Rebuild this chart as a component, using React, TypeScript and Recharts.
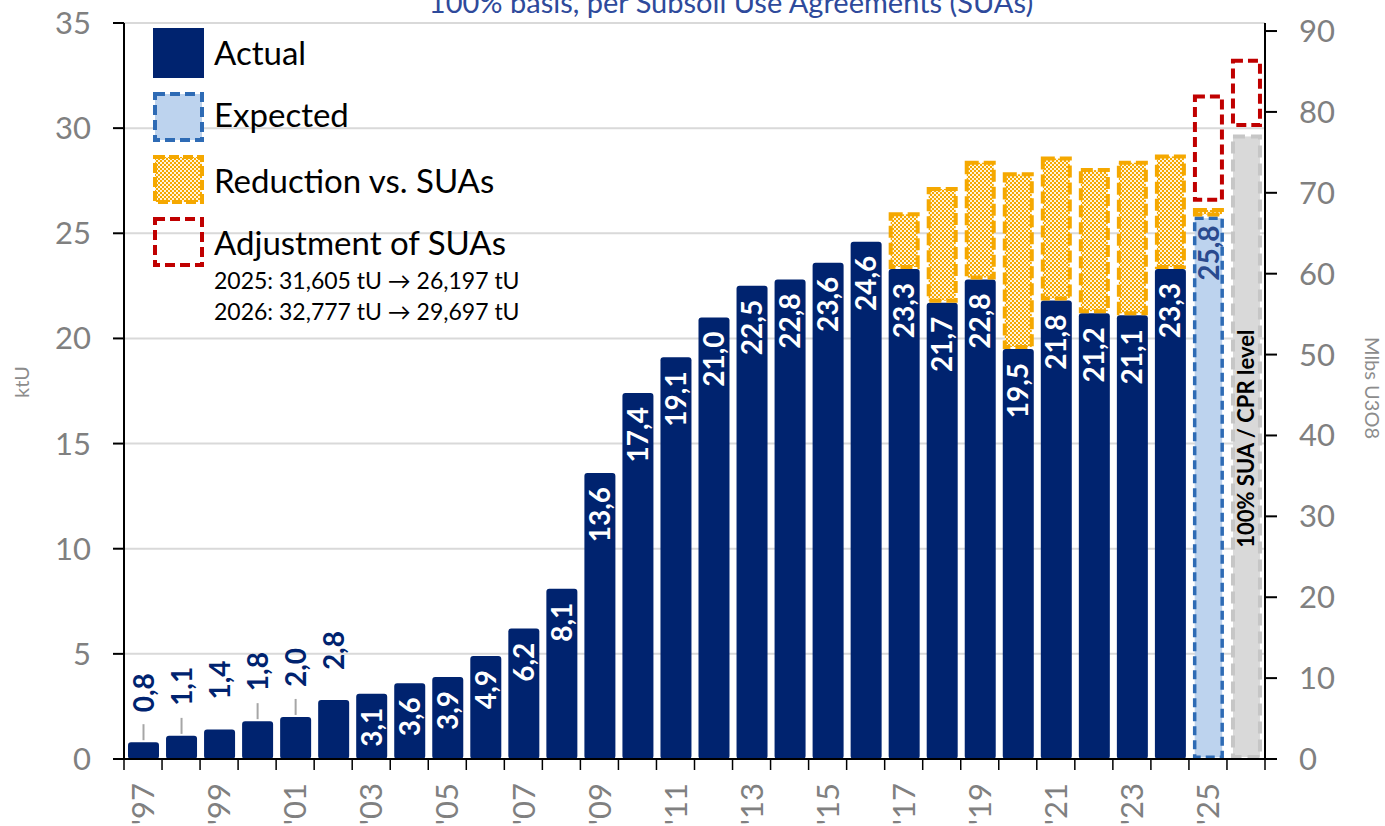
import { ComposedChart, Bar, XAxis, YAxis, CartesianGrid, Line, LabelList } from 'recharts';

const years = [
  '1997', '1998', '1999', '2000', '2001', '2002', '2003', '2004', '2005', '2006',
  '2007', '2008', '2009', '2010', '2011', '2012', '2013', '2014', '2015', '2016',
  '2017', '2018', '2019', '2020', '2021', '2022', '2023', '2024', '2025', '2026',
];

// ktU, 1997-2024
const actualKt = [
  0.8, 1.1, 1.4, 1.8, 2.0, 2.8, 3.1, 3.6, 3.9, 4.9,
  6.2, 8.1, 13.6, 17.4, 19.1, 21.0, 22.5, 22.8, 23.6, 24.6,
  23.3, 21.7, 22.8, 19.5, 21.8, 21.2, 21.1, 23.3,
];

const reductionYears = ['2017', '2018', '2019', '2020', '2021', '2022', '2023', '2024', '2025'];
const reductionKt = [2.7, 5.5, 5.65, 8.4, 6.85, 6.9, 7.35, 5.45, 0.4];

const expectedYears = ['2025'];
const expectedKt = [25.8];

const cprYears = ['2026'];
const cprKt = [29.7];

const adjustmentYears = ['2025', '2026'];
const spacerKt = [0.3, 0.35];
const adjustmentKt = [5.1, 3.25];

const leaderYears = ['1997', '1998', '2000', '2001'];

const leftTicks = [0, 5, 10, 15, 20, 25, 30, 35];
const rightTicks = [0, 10, 20, 30, 40, 50, 60, 70, 80, 90];
// 1 ktU = 2.5998 Mlbs U3O8
const LBS_PER_KTU = 2.5998;

const NAVY = '#00236F';
const GREY_TXT = '#808080';
const ORANGE = '#F5A800';
const RED = '#C00000';
const FONT = 'Lato, "Open Sans", sans-serif';

const pick = (ys: string[], vs: number[], y: string) => {
  const i = ys.indexOf(y);
  return i >= 0 ? vs[i] : null;
};

const data = years.map((year, i) => ({
  year,
  actual: i < actualKt.length ? actualKt[i] : null,
  expected: pick(expectedYears, expectedKt, year),
  cpr: pick(cprYears, cprKt, year),
  reduction: pick(reductionYears, reductionKt, year),
  spacer: pick(adjustmentYears, spacerKt, year),
  adjustment: pick(adjustmentYears, adjustmentKt, year),
  base: 0,
}));

const fmt = (v: number) => v.toFixed(1).replace('.', ',');
const HALF_BAND = (1265 - 124) / years.length / 2;

const dashed = (fill: string, stroke: string, sw: number, dash: string) => (props: any) => {
  const { x, y, width, height } = props;
  if (!height || height <= 0) return <g />;
  return (
    <rect
      x={x + sw / 2}
      y={y + sw / 2}
      width={width - sw}
      height={Math.max(0, height - sw)}
      fill={fill}
      stroke={stroke}
      strokeWidth={sw}
      strokeDasharray={dash}
    />
  );
};

const box = (props: any) => {
  const vb = props.viewBox ?? props;
  const top = Math.min(vb.y, vb.y + vb.height);
  return { cx: vb.x + vb.width / 2, top, h: Math.abs(vb.height) };
};

const actualLabel = (props: any) => {
  const { value, index } = props;
  if (value == null) return null;
  const { cx, top } = box(props);
  if (value < 3) {
    const lead = leaderYears.includes(years[index]);
    return (
      <g>
        {lead && <line x1={cx} x2={cx} y1={top - 2} y2={top - 18} stroke="#A6A6A6" strokeWidth={2} />}
        <text
          transform={`translate(${cx},${top - 30}) rotate(-90)`}
          textAnchor="start"
          dy="0.36em"
          fill={NAVY}
          fontSize={28}
          fontWeight={700}
          fontFamily={FONT}
        >
          {fmt(value)}
        </text>
      </g>
    );
  }
  return (
    <text
      transform={`translate(${cx},${top + 14}) rotate(-90)`}
      textAnchor="end"
      dy="0.36em"
      fill="#fff"
      fontSize={28}
      fontWeight={700}
      fontFamily={FONT}
    >
      {fmt(value)}
    </text>
  );
};

const expectedLabel = (props: any) => {
  const { value } = props;
  if (value == null) return null;
  const { cx, top } = box(props);
  return (
    <text
      transform={`translate(${cx},${top + 9}) rotate(-90)`}
      textAnchor="end"
      dy="0.36em"
      fill="#2A4A8E"
      fontSize={28}
      fontWeight={700}
      fontFamily={FONT}
    >
      {fmt(value)}
    </text>
  );
};

const cprLabel = (props: any) => {
  const { value } = props;
  if (value == null) return null;
  const { cx, top, h } = box(props);
  return (
    <text
      transform={`translate(${cx},${top + h / 2 - 8}) rotate(-90)`}
      textAnchor="middle"
      dy="0.36em"
      fill="#000"
      fontSize={22}
      fontWeight={700}
      fontFamily={FONT}
    >
      100% SUA / CPR level
    </text>
  );
};

const XTick = (props: any) => {
  const { x, y, index } = props;
  const label = "'" + years[index].slice(2);
  return (
    <g>
      <line x1={x - HALF_BAND} x2={x - HALF_BAND} y1={y} y2={y + 11} stroke="#000" strokeWidth={1.5} />
      {index === years.length - 1 && (
        <line x1={x + HALF_BAND} x2={x + HALF_BAND} y1={y} y2={y + 11} stroke="#000" strokeWidth={1.5} />
      )}
      {index % 2 === 0 && (
        <text
          transform={`translate(${x},${y + 24}) rotate(-90)`}
          textAnchor="end"
          dy="0.36em"
          fill={GREY_TXT}
          fontSize={31}
          fontFamily={FONT}
        >
          {label}
        </text>
      )}
    </g>
  );
};

function Overlay() {
  const legend = [
    { name: 'Actual', y: 65 },
    { name: 'Expected', y: 127 },
    { name: 'Reduction vs. SUAs', y: 193 },
    { name: 'Adjustment of SUAs', y: 255 },
  ];
  return (
    <svg
      width={1385}
      height={826}
      style={{ position: 'absolute', left: 0, top: 0, pointerEvents: 'none' }}
      fontFamily={FONT}
    >
      <defs>
        <pattern id="hatch" width="4" height="4" patternUnits="userSpaceOnUse">
          <rect width="4" height="4" fill="#FFF4DC" />
          <rect width="2" height="2" fill={ORANGE} />
          <rect x="2" y="2" width="2" height="2" fill={ORANGE} />
        </pattern>
      </defs>
      <text x={731} y={13} textAnchor="middle" fontSize={29} fill="#2E4A9B">
        100% basis, per Subsoil Use Agreements (SUAs)
      </text>
      <text transform="translate(22,382) rotate(-90)" textAnchor="middle" dy="0.36em" fontSize={20} fill="#8C8C8C">
        ktU
      </text>
      <text transform="translate(1372,388) rotate(90)" textAnchor="middle" dy="0.36em" fontSize={20} fill="#8C8C8C">
        Mlbs U3O8
      </text>

      <rect x={153} y={28} width={51} height={50} fill={NAVY} />
      <rect x={155} y={94} width={47} height={46} fill="#BDD3EE" stroke="#2E6BB5" strokeWidth={4} strokeDasharray="10 5" />
      <rect x={155} y={157} width={47} height={45} fill="url(#hatch)" stroke={ORANGE} strokeWidth={4} strokeDasharray="10 4" />
      <rect x={155} y={219} width={47} height={46} fill="none" stroke={RED} strokeWidth={4} strokeDasharray="10 5" />
      {legend.map((l) => (
        <text key={l.name} x={214} y={l.y} fontSize={33} fill="#000">
          {l.name}
        </text>
      ))}
      <text x={214} y={289} fontSize={23} fill="#000">2025: 31,605 tU → 26,197 tU</text>
      <text x={214} y={320} fontSize={23} fill="#000">2026: 32,777 tU → 29,697 tU</text>
    </svg>
  );
}

export default function App() {
  return (
    <div style={{ position: 'absolute', left: 0, top: 0, width: 1385, height: 826, background: '#fff', fontFamily: FONT }}>
      <ComposedChart
        width={1385}
        height={826}
        data={data}
        margin={{ top: 23, right: 0, bottom: 0, left: 0 }}
        barSize={31}
      >
        <CartesianGrid vertical={false} stroke="#D9D9D9" strokeWidth={2} yAxisId="l" />
        <XAxis
          dataKey="year"
          height={67}
          interval={0}
          tickLine={false}
          tickSize={0}
          tickMargin={0}
          axisLine={{ stroke: '#000', strokeWidth: 2 }}
          tick={<XTick />}
        />
        <YAxis
          yAxisId="l"
          width={124}
          domain={[0, 35]}
          ticks={leftTicks}
          interval={0}
          tickSize={11}
          tickMargin={22}
          axisLine={{ stroke: '#000', strokeWidth: 2 }}
          tickLine={{ stroke: '#000', strokeWidth: 2 }}
          tick={{ fill: GREY_TXT, fontSize: 31, fontFamily: FONT }}
        />
        <YAxis
          yAxisId="r"
          orientation="right"
          type="number"
          width={120}
          domain={[0, 35 * LBS_PER_KTU]}
          allowDataOverflow
          ticks={rightTicks}
          interval={0}
          tickSize={12}
          tickMargin={22}
          axisLine={{ stroke: '#000', strokeWidth: 2 }}
          tickLine={{ stroke: '#000', strokeWidth: 2 }}
          tick={{ fill: GREY_TXT, fontSize: 31, fontFamily: FONT }}
        />
        <Bar yAxisId="l" dataKey="actual" stackId="a" fill={NAVY} radius={[3, 3, 3, 3]} isAnimationActive={false}>
          <LabelList dataKey="actual" content={actualLabel} />
        </Bar>
        <Bar
          yAxisId="l"
          dataKey="expected"
          stackId="a"
          shape={dashed('#BDD3EE', '#2E6BB5', 3.5, '9 5')}
          isAnimationActive={false}
        >
          <LabelList dataKey="expected" content={expectedLabel} />
        </Bar>
        <Bar
          yAxisId="l"
          dataKey="cpr"
          stackId="a"
          shape={dashed('#D9D9D9', '#C6C6C6', 4, '12 6')}
          isAnimationActive={false}
        >
          <LabelList dataKey="cpr" content={cprLabel} />
        </Bar>
        <Bar
          yAxisId="l"
          dataKey="reduction"
          stackId="a"
          shape={dashed('url(#hatch)', ORANGE, 4, '12 5')}
          isAnimationActive={false}
        />
        <Bar yAxisId="l" dataKey="spacer" stackId="a" fill="none" isAnimationActive={false} />
        <Bar
          yAxisId="l"
          dataKey="adjustment"
          stackId="a"
          shape={dashed('none', RED, 4, '10 5')}
          isAnimationActive={false}
        />
        <Line yAxisId="r" dataKey="base" stroke="none" dot={false} activeDot={false} isAnimationActive={false} />
      </ComposedChart>
      <Overlay />
    </div>
  );
}
